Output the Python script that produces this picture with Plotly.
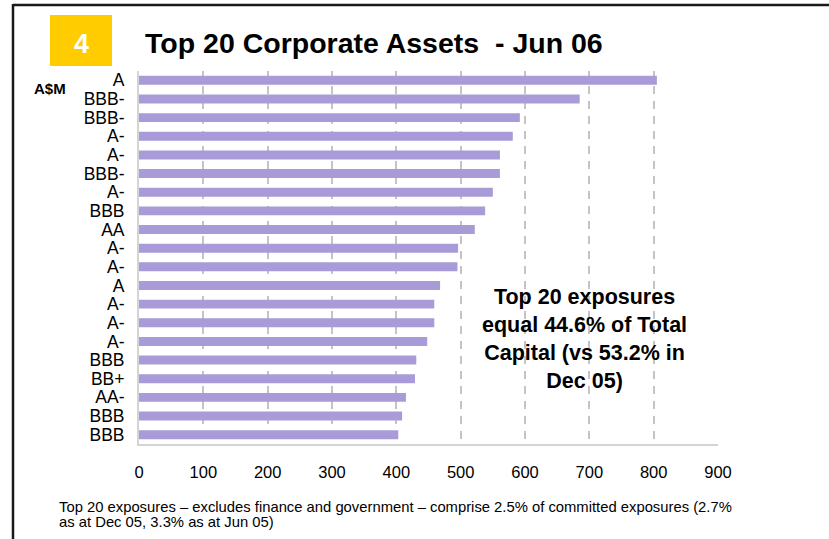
import plotly.graph_objects as go

# Obligor ratings, largest exposure first
ratings = ["A", "BBB-", "BBB-", "A-", "A-", "BBB-", "A-", "BBB", "AA", "A-",
           "A-", "A", "A-", "A-", "A-", "BBB", "BB+", "AA-", "BBB", "BBB"]
# Exposure per obligor, A$M
exposures = [805, 685, 592, 581, 561, 561, 550, 538, 522, 496,
             495, 468, 459, 459, 448, 431, 429, 415, 409, 403]
x_ticks = [0, 100, 200, 300, 400, 500, 600, 700, 800, 900]

W, H = 829, 539
L, R, T, B = 139, 718, 71, 444  # plot area in pixels

def px(x):
    return (x - L) / (R - L)

def py(y):
    return (B - y) / (B - T)

FONT = "Liberation Sans, Arial, sans-serif"
idx = list(range(len(ratings)))

fig = go.Figure(go.Bar(
    x=exposures, y=idx, orientation="h",
    marker=dict(color="#A99BD8", line=dict(width=0)),
    hoverinfo="x",
))

fig.update_layout(
    width=W, height=H,
    margin=dict(l=L, r=W - R, t=T, b=H - B),
    paper_bgcolor="white", plot_bgcolor="white",
    bargap=0.52, showlegend=False,
    font=dict(family=FONT, color="black"),
    xaxis=dict(
        range=[0, 900], tickvals=x_ticks, ticktext=[str(v) for v in x_ticks],
        showgrid=True, gridcolor="#c4c4c4", gridwidth=1.5, griddash="8px,7px",
        zeroline=False, showline=True, linecolor="#d4d4d4", linewidth=2,
        ticks="", tickfont=dict(size=16.5, family=FONT, color="black"),
        ticklabelstandoff=12, fixedrange=True,
    ),
    yaxis=dict(
        range=[19.5, -0.5], tickvals=idx, ticktext=ratings,
        showgrid=False, zeroline=False, showline=True, linecolor="#d4d4d4",
        linewidth=2, ticks="", tickfont=dict(size=17.5, family=FONT, color="black"),
        ticklabelstandoff=9, fixedrange=True,
    ),
)

shapes = [
    # page frame: top and left rules
    dict(type="line", xref="paper", yref="paper", x0=px(13), x1=px(829),
         y0=py(5), y1=py(5), line=dict(color="#1a1a1a", width=2.5)),
    dict(type="line", xref="paper", yref="paper", x0=px(13), x1=px(13),
         y0=py(4), y1=py(539), line=dict(color="#1a1a1a", width=2.5)),
    # section badge
    dict(type="rect", xref="paper", yref="paper", x0=px(50), x1=px(112),
         y0=py(66), y1=py(15), fillcolor="#FFCC00", line=dict(width=0)),
]
fig.update_layout(shapes=shapes)

annotations = [
    dict(text="<b>4</b>", x=px(81), y=py(44), font=dict(size=27, color="white", family=FONT)),
    dict(text="<b>Top 20 Corporate Assets  - Jun 06</b>", x=px(143), y=py(43),
         xanchor="left", font=dict(size=28.5, color="black", family=FONT)),
    dict(text="<b>A$M</b>", x=px(50), y=py(88), font=dict(size=15, color="black", family=FONT)),
    dict(text="<b>Top 20 exposures<br>equal 44.6% of Total<br>Capital (vs 53.2% in<br>Dec 05)</b>",
         x=px(584), y=py(339), align="center",
         font=dict(size=21.5, color="black", family=FONT)),
    dict(text="Top 20 exposures \u2013 excludes finance and government \u2013 comprise 2.5% of committed exposures (2.7%",
         x=px(57), y=py(507), xanchor="left", font=dict(size=14.8, color="black", family=FONT)),
    dict(text="as at Dec 05, 3.3% as at Jun 05)",
         x=px(57), y=py(522), xanchor="left", font=dict(size=14.8, color="black", family=FONT)),
]
for a in annotations:
    a.setdefault("xanchor", "center")
    a.setdefault("yanchor", "middle")
    a.update(xref="paper", yref="paper", showarrow=False)
fig.update_layout(annotations=annotations)

fig.write_html("out.html")
